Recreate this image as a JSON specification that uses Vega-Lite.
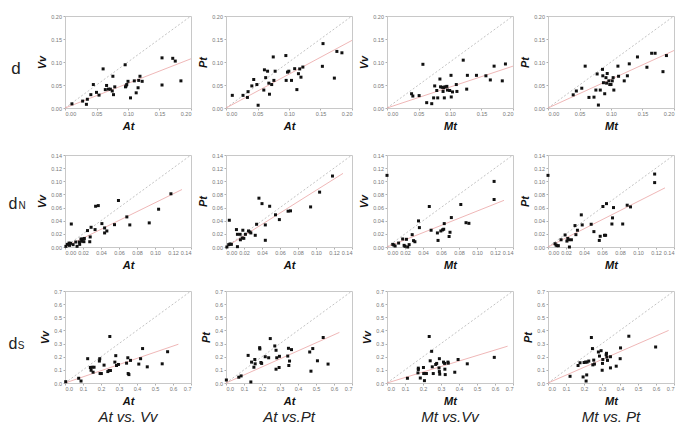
{
"$schema":"https://vega.github.io/schema/vega-lite/v6.json",
"background":"white",
"padding":{"left":2,"top":13,"right":5,"bottom":5},
"spacing":17,
"datasets":{
"ref":[
{"p":"a1","x":0,"y":0,"xd":0.2,"yd":0.2,"xf":0.2,"yf":0.107},
{"p":"a2","x":0,"y":0,"xd":0.2,"yd":0.2,"xf":0.2,"yf":0.147},
{"p":"a3","x":0,"y":0,"xd":0.2,"yd":0.2,"xf":0.2,"yf":0.091},
{"p":"a4","x":0,"y":0,"xd":0.2,"yd":0.2,"xf":0.2,"yf":0.125},
{"p":"b1","x":0,"y":0,"xd":0.14,"yd":0.14,"xf":0.13,"yf":0.0875},
{"p":"b2","x":0,"y":0,"xd":0.14,"yd":0.14,"xf":0.13,"yf":0.112},
{"p":"b3","x":0,"y":0,"xd":0.14,"yd":0.14,"xf":0.13,"yf":0.071},
{"p":"b4","x":0,"y":0,"xd":0.14,"yd":0.14,"xf":0.13,"yf":0.09},
{"p":"c1","x":0,"y":0,"xd":0.7,"yd":0.7,"xf":0.63,"yf":0.295},
{"p":"c2","x":0,"y":0,"xd":0.7,"yd":0.7,"xf":0.63,"yf":0.385},
{"p":"c3","x":0,"y":0,"xd":0.7,"yd":0.7,"xf":0.67,"yf":0.28},
{"p":"c4","x":0,"y":0,"xd":0.7,"yd":0.7,"xf":0.67,"yf":0.4}
],
"a1":[{"x":0.011,"y":0.009},{"x":0.028,"y":0.015},{"x":0.0355,"y":0.019},{"x":0.034,"y":0.008},{"x":0.041,"y":0.029},{"x":0.045,"y":0.051},{"x":0.05,"y":0.034},{"x":0.054,"y":0.028},{"x":0.0605,"y":0.085},{"x":0.064,"y":0.04},{"x":0.066,"y":0.049},{"x":0.069,"y":0.041},{"x":0.072,"y":0.041},{"x":0.075,"y":0.037},{"x":0.076,"y":0.069},{"x":0.077,"y":0.029},{"x":0.079,"y":0.046},{"x":0.0955,"y":0.094},{"x":0.096,"y":0.046},{"x":0.098,"y":0.051},{"x":0.1,"y":0.058},{"x":0.104,"y":0.022},{"x":0.11,"y":0.059},{"x":0.113,"y":0.033},{"x":0.116,"y":0.044},{"x":0.117,"y":0.06},{"x":0.119,"y":0.069},{"x":0.1225,"y":0.058},{"x":0.154,"y":0.109},{"x":0.154,"y":0.05},{"x":0.171,"y":0.108},{"x":0.175,"y":0.102},{"x":0.184,"y":0.059},{"x":0.097,"y":0.048}],
"a2":[{"x":0.01,"y":0.0275},{"x":0.027,"y":0.0275},{"x":0.034,"y":0.023},{"x":0.035,"y":0.0355},{"x":0.041,"y":0.048},{"x":0.044,"y":0.062},{"x":0.049,"y":0.051},{"x":0.051,"y":0.006},{"x":0.06,"y":0.039},{"x":0.061,"y":0.083},{"x":0.063,"y":0.066},{"x":0.066,"y":0.08},{"x":0.068,"y":0.054},{"x":0.069,"y":0.03},{"x":0.0725,"y":0.051},{"x":0.075,"y":0.111},{"x":0.076,"y":0.06},{"x":0.078,"y":0.08},{"x":0.095,"y":0.114},{"x":0.0955,"y":0.06},{"x":0.0976,"y":0.078},{"x":0.0997,"y":0.08},{"x":0.104,"y":0.06},{"x":0.109,"y":0.0855},{"x":0.1125,"y":0.04},{"x":0.115,"y":0.0746},{"x":0.117,"y":0.085},{"x":0.119,"y":0.067},{"x":0.122,"y":0.089},{"x":0.154,"y":0.14},{"x":0.153,"y":0.0906},{"x":0.172,"y":0.065},{"x":0.176,"y":0.123},{"x":0.184,"y":0.12}],
"a3":[{"x":0.039,"y":0.031},{"x":0.041,"y":0.026},{"x":0.051,"y":0.027},{"x":0.057,"y":0.095},{"x":0.063,"y":0.0116},{"x":0.071,"y":0.0094},{"x":0.074,"y":0.022},{"x":0.0757,"y":0.048},{"x":0.079,"y":0.038},{"x":0.0805,"y":0.022},{"x":0.084,"y":0.063},{"x":0.085,"y":0.046},{"x":0.0876,"y":0.045},{"x":0.089,"y":0.036},{"x":0.09,"y":0.044},{"x":0.091,"y":0.022},{"x":0.092,"y":0.046},{"x":0.095,"y":0.047},{"x":0.096,"y":0.039},{"x":0.0995,"y":0.038},{"x":0.1016,"y":0.071},{"x":0.102,"y":0.024},{"x":0.104,"y":0.035},{"x":0.11,"y":0.051},{"x":0.111,"y":0.036},{"x":0.121,"y":0.104},{"x":0.1265,"y":0.041},{"x":0.1276,"y":0.071},{"x":0.142,"y":0.071},{"x":0.157,"y":0.07},{"x":0.164,"y":0.061},{"x":0.17,"y":0.091},{"x":0.183,"y":0.059},{"x":0.188,"y":0.0957}],
"a4":[{"x":0.04,"y":0.0286},{"x":0.045,"y":0.037},{"x":0.0536,"y":0.043},{"x":0.059,"y":0.091},{"x":0.065,"y":0.023},{"x":0.073,"y":0.0236},{"x":0.076,"y":0.039},{"x":0.078,"y":0.074},{"x":0.08,"y":0.0064},{"x":0.083,"y":0.039},{"x":0.0865,"y":0.084},{"x":0.087,"y":0.07},{"x":0.088,"y":0.055},{"x":0.09,"y":0.031},{"x":0.092,"y":0.066},{"x":0.093,"y":0.054},{"x":0.094,"y":0.075},{"x":0.0966,"y":0.059},{"x":0.098,"y":0.051},{"x":0.1,"y":0.051},{"x":0.102,"y":0.059},{"x":0.1034,"y":0.066},{"x":0.1045,"y":0.039},{"x":0.111,"y":0.091},{"x":0.112,"y":0.069},{"x":0.121,"y":0.059},{"x":0.126,"y":0.07},{"x":0.129,"y":0.096},{"x":0.142,"y":0.111},{"x":0.157,"y":0.0886},{"x":0.1645,"y":0.119},{"x":0.17,"y":0.119},{"x":0.1825,"y":0.079},{"x":0.188,"y":0.114}],
"b1":[{"x":0.001,"y":0.001},{"x":0.0026,"y":0.004},{"x":0.0045,"y":0.006},{"x":0.0063,"y":0.0056},{"x":0.007,"y":0.035},{"x":0.005,"y":0.0025},{"x":0.009,"y":0.0036},{"x":0.012,"y":0.0076},{"x":0.0134,"y":0.001},{"x":0.016,"y":0.0076},{"x":0.0163,"y":0.004},{"x":0.0178,"y":0.0122},{"x":0.0186,"y":0.0087},{"x":0.02,"y":0.0122},{"x":0.021,"y":0.0081},{"x":0.0215,"y":0.013},{"x":0.025,"y":0.025},{"x":0.0275,"y":0.008},{"x":0.028,"y":0.0153},{"x":0.029,"y":0.03},{"x":0.0334,"y":0.0265},{"x":0.034,"y":0.062},{"x":0.037,"y":0.063},{"x":0.041,"y":0.0356},{"x":0.044,"y":0.029},{"x":0.044,"y":0.0214},{"x":0.0465,"y":0.0244},{"x":0.055,"y":0.034},{"x":0.0594,"y":0.0708},{"x":0.0687,"y":0.0458},{"x":0.072,"y":0.0336},{"x":0.0936,"y":0.0367},{"x":0.104,"y":0.0575},{"x":0.1177,"y":0.081}],
"b2":[{"x":0.001,"y":0.0},{"x":0.003,"y":0.0036},{"x":0.0045,"y":0.0046},{"x":0.006,"y":0.004},{"x":0.0037,"y":0.0407},{"x":0.0116,"y":0.0265},{"x":0.0127,"y":0.0193},{"x":0.0127,"y":0.0005},{"x":0.0157,"y":0.0193},{"x":0.016,"y":0.011},{"x":0.018,"y":0.0137},{"x":0.0187,"y":0.0255},{"x":0.0198,"y":0.0132},{"x":0.0216,"y":0.0193},{"x":0.025,"y":0.0244},{"x":0.0265,"y":0.023},{"x":0.0276,"y":0.0214},{"x":0.0325,"y":0.0178},{"x":0.034,"y":0.0346},{"x":0.0366,"y":0.0743},{"x":0.04,"y":0.066},{"x":0.0437,"y":0.0336},{"x":0.0437,"y":0.0102},{"x":0.0485,"y":0.062},{"x":0.055,"y":0.049},{"x":0.0593,"y":0.0417},{"x":0.069,"y":0.0545},{"x":0.0717,"y":0.055},{"x":0.094,"y":0.061},{"x":0.104,"y":0.0835},{"x":0.1183,"y":0.108}],
"b3":[{"x":0.0,"y":0.109},{"x":0.0064,"y":0.004},{"x":0.0076,"y":0.003},{"x":0.009,"y":0.0015},{"x":0.0129,"y":0.006},{"x":0.0174,"y":0.0122},{"x":0.019,"y":0.0025},{"x":0.02,"y":0.001},{"x":0.0216,"y":0.0117},{"x":0.023,"y":0.0},{"x":0.0246,"y":0.0036},{"x":0.028,"y":0.0188},{"x":0.0295,"y":0.0097},{"x":0.031,"y":0.008},{"x":0.035,"y":0.0397},{"x":0.036,"y":0.0295},{"x":0.047,"y":0.0616},{"x":0.049,"y":0.0255},{"x":0.056,"y":0.0214},{"x":0.0567,"y":0.01},{"x":0.0598,"y":0.0244},{"x":0.0617,"y":0.026},{"x":0.063,"y":0.027},{"x":0.0636,"y":0.0356},{"x":0.069,"y":0.016},{"x":0.07,"y":0.0224},{"x":0.0715,"y":0.0448},{"x":0.082,"y":0.0647},{"x":0.0878,"y":0.037},{"x":0.091,"y":0.036},{"x":0.119,"y":0.0998},{"x":0.119,"y":0.0723}],
"b4":[{"x":0.0,"y":0.109},{"x":0.0078,"y":0.005},{"x":0.0089,"y":0.003},{"x":0.01,"y":0.002},{"x":0.0115,"y":0.002},{"x":0.0145,"y":0.011},{"x":0.019,"y":0.0183},{"x":0.021,"y":0.009},{"x":0.022,"y":0.013},{"x":0.023,"y":0.011},{"x":0.0238,"y":0.0},{"x":0.026,"y":0.011},{"x":0.03,"y":0.0326},{"x":0.031,"y":0.0188},{"x":0.0327,"y":0.0255},{"x":0.037,"y":0.0489},{"x":0.038,"y":0.0336},{"x":0.048,"y":0.0346},{"x":0.051,"y":0.0234},{"x":0.057,"y":0.01},{"x":0.058,"y":0.0163},{"x":0.061,"y":0.0616},{"x":0.0628,"y":0.0178},{"x":0.064,"y":0.0178},{"x":0.065,"y":0.066},{"x":0.0717,"y":0.0443},{"x":0.071,"y":0.035},{"x":0.0728,"y":0.06},{"x":0.083,"y":0.035},{"x":0.088,"y":0.0636},{"x":0.0917,"y":0.061},{"x":0.1185,"y":0.111},{"x":0.1185,"y":0.098}],
"c1":[{"x":0.004,"y":0.01},{"x":0.076,"y":0.036},{"x":0.089,"y":0.015},{"x":0.126,"y":0.185},{"x":0.141,"y":0.118},{"x":0.145,"y":0.097},{"x":0.15,"y":0.12},{"x":0.156,"y":0.082},{"x":0.1615,"y":0.12},{"x":0.191,"y":0.167},{"x":0.193,"y":0.185},{"x":0.195,"y":0.072},{"x":0.202,"y":0.072},{"x":0.217,"y":0.136},{"x":0.238,"y":0.087},{"x":0.245,"y":0.095},{"x":0.249,"y":0.354},{"x":0.2525,"y":0.095},{"x":0.277,"y":0.159},{"x":0.282,"y":0.208},{"x":0.286,"y":0.133},{"x":0.297,"y":0.141},{"x":0.342,"y":0.151},{"x":0.349,"y":0.192},{"x":0.351,"y":0.072},{"x":0.355,"y":0.064},{"x":0.364,"y":0.172},{"x":0.41,"y":0.144},{"x":0.42,"y":0.185},{"x":0.431,"y":0.262},{"x":0.457,"y":0.123},{"x":0.54,"y":0.146},{"x":0.57,"y":0.238}],
"c2":[{"x":0.002,"y":0.023},{"x":0.071,"y":0.044},{"x":0.084,"y":0.054},{"x":0.123,"y":0.21},{"x":0.138,"y":0.008},{"x":0.142,"y":0.159},{"x":0.155,"y":0.12},{"x":0.16,"y":0.179},{"x":0.162,"y":0.146},{"x":0.187,"y":0.269},{"x":0.188,"y":0.259},{"x":0.194,"y":0.156},{"x":0.198,"y":0.149},{"x":0.218,"y":0.2},{"x":0.237,"y":0.192},{"x":0.246,"y":0.338},{"x":0.271,"y":0.282},{"x":0.278,"y":0.249},{"x":0.278,"y":0.105},{"x":0.282,"y":0.192},{"x":0.297,"y":0.203},{"x":0.295,"y":0.118},{"x":0.343,"y":0.205},{"x":0.347,"y":0.264},{"x":0.349,"y":0.133},{"x":0.353,"y":0.167},{"x":0.364,"y":0.254},{"x":0.465,"y":0.236},{"x":0.472,"y":0.09},{"x":0.482,"y":0.262},{"x":0.508,"y":0.169},{"x":0.54,"y":0.346},{"x":0.567,"y":0.144}],
"c3":[{"x":0.1135,"y":0.036},{"x":0.172,"y":0.077},{"x":0.174,"y":0.113},{"x":0.174,"y":0.103},{"x":0.185,"y":0.038},{"x":0.2025,"y":0.118},{"x":0.204,"y":0.072},{"x":0.212,"y":0.072},{"x":0.208,"y":0.018},{"x":0.219,"y":0.072},{"x":0.2345,"y":0.354},{"x":0.24,"y":0.169},{"x":0.248,"y":0.241},{"x":0.2515,"y":0.123},{"x":0.257,"y":0.072},{"x":0.2705,"y":0.141},{"x":0.276,"y":0.149},{"x":0.289,"y":0.115},{"x":0.291,"y":0.185},{"x":0.291,"y":0.087},{"x":0.293,"y":0.067},{"x":0.314,"y":0.159},{"x":0.32,"y":0.149},{"x":0.3215,"y":0.105},{"x":0.3235,"y":0.064},{"x":0.3386,"y":0.159},{"x":0.34,"y":0.151},{"x":0.3765,"y":0.082},{"x":0.395,"y":0.179},{"x":0.446,"y":0.146},{"x":0.596,"y":0.195}],
"c4":[{"x":0.1225,"y":0.051},{"x":0.167,"y":0.133},{"x":0.178,"y":0.154},{"x":0.195,"y":0.046},{"x":0.2005,"y":0.156},{"x":0.208,"y":0.159},{"x":0.2117,"y":0.015},{"x":0.215,"y":0.0615},{"x":0.217,"y":0.159},{"x":0.2265,"y":0.167},{"x":0.241,"y":0.346},{"x":0.247,"y":0.262},{"x":0.249,"y":0.138},{"x":0.254,"y":0.174},{"x":0.258,"y":0.144},{"x":0.28,"y":0.236},{"x":0.286,"y":0.205},{"x":0.295,"y":0.246},{"x":0.301,"y":0.097},{"x":0.3026,"y":0.149},{"x":0.3045,"y":0.179},{"x":0.323,"y":0.215},{"x":0.325,"y":0.226},{"x":0.327,"y":0.197},{"x":0.3305,"y":0.172},{"x":0.347,"y":0.2},{"x":0.347,"y":0.115},{"x":0.379,"y":0.128},{"x":0.401,"y":0.185},{"x":0.403,"y":0.267},{"x":0.449,"y":0.356},{"x":0.598,"y":0.274}]
},
"vconcat":[
{"spacing":20,"vconcat":[
{"bounds":"flush","spacing":35,"hconcat":[
 {"width":28,"height":92,"view":{"stroke":null},"data":{"values":[{"a":1}]},"mark":{"type":"text","text":"d","fontSize":17,"baseline":"alphabetic","dy":12,"color":"#222222"},"encoding":{}},
 {"width":126,"height":92,"encoding":{"x":{"field":"x","type":"quantitative","scale":{"domain":[0,0.2],"nice":false},"axis":{"values":[0,0.05,0.1,0.15,0.2],"format":".2f","title":"At"}},"y":{"field":"y","type":"quantitative","scale":{"domain":[0,0.2],"nice":false},"axis":{"values":[0,0.05,0.1,0.15,0.2],"format":".2f","title":"Vv"}}},
  "layer":[
   {"data":{"name":"ref"},"transform":[{"filter":"datum.p=='a1'"}],"mark":{"type":"rule","stroke":"#b4b4b4","strokeWidth":0.8,"strokeDash":[2,2]},"encoding":{"x2":{"field":"xd"},"y2":{"field":"yd"}}},
   {"data":{"name":"ref"},"transform":[{"filter":"datum.p=='a1'"}],"mark":{"type":"rule","stroke":"#eba5a5","strokeWidth":0.8},"encoding":{"x2":{"field":"xf"},"y2":{"field":"yf"}}},
   {"data":{"name":"a1"},"mark":{"type":"square","color":"#111111","size":9,"opacity":1}}]},
 {"width":126,"height":92,"encoding":{"x":{"field":"x","type":"quantitative","scale":{"domain":[0,0.2],"nice":false},"axis":{"values":[0,0.05,0.1,0.15,0.2],"format":".2f","title":"At"}},"y":{"field":"y","type":"quantitative","scale":{"domain":[0,0.2],"nice":false},"axis":{"values":[0,0.05,0.1,0.15,0.2],"format":".2f","title":"Pt"}}},
  "layer":[
   {"data":{"name":"ref"},"transform":[{"filter":"datum.p=='a2'"}],"mark":{"type":"rule","stroke":"#b4b4b4","strokeWidth":0.8,"strokeDash":[2,2]},"encoding":{"x2":{"field":"xd"},"y2":{"field":"yd"}}},
   {"data":{"name":"ref"},"transform":[{"filter":"datum.p=='a2'"}],"mark":{"type":"rule","stroke":"#eba5a5","strokeWidth":0.8},"encoding":{"x2":{"field":"xf"},"y2":{"field":"yf"}}},
   {"data":{"name":"a2"},"mark":{"type":"square","color":"#111111","size":9,"opacity":1}}]},
 {"width":126,"height":92,"encoding":{"x":{"field":"x","type":"quantitative","scale":{"domain":[0,0.2],"nice":false},"axis":{"values":[0,0.05,0.1,0.15,0.2],"format":".2f","title":"Mt"}},"y":{"field":"y","type":"quantitative","scale":{"domain":[0,0.2],"nice":false},"axis":{"values":[0,0.05,0.1,0.15,0.2],"format":".2f","title":"Vv"}}},
  "layer":[
   {"data":{"name":"ref"},"transform":[{"filter":"datum.p=='a3'"}],"mark":{"type":"rule","stroke":"#b4b4b4","strokeWidth":0.8,"strokeDash":[2,2]},"encoding":{"x2":{"field":"xd"},"y2":{"field":"yd"}}},
   {"data":{"name":"ref"},"transform":[{"filter":"datum.p=='a3'"}],"mark":{"type":"rule","stroke":"#eba5a5","strokeWidth":0.8},"encoding":{"x2":{"field":"xf"},"y2":{"field":"yf"}}},
   {"data":{"name":"a3"},"mark":{"type":"square","color":"#111111","size":9,"opacity":1}}]},
 {"width":126,"height":92,"encoding":{"x":{"field":"x","type":"quantitative","scale":{"domain":[0,0.2],"nice":false},"axis":{"values":[0,0.05,0.1,0.15,0.2],"format":".2f","title":"Mt"}},"y":{"field":"y","type":"quantitative","scale":{"domain":[0,0.2],"nice":false},"axis":{"values":[0,0.05,0.1,0.15,0.2],"format":".2f","title":"Pt"}}},
  "layer":[
   {"data":{"name":"ref"},"transform":[{"filter":"datum.p=='a4'"}],"mark":{"type":"rule","stroke":"#b4b4b4","strokeWidth":0.8,"strokeDash":[2,2]},"encoding":{"x2":{"field":"xd"},"y2":{"field":"yd"}}},
   {"data":{"name":"ref"},"transform":[{"filter":"datum.p=='a4'"}],"mark":{"type":"rule","stroke":"#eba5a5","strokeWidth":0.8},"encoding":{"x2":{"field":"xf"},"y2":{"field":"yf"}}},
   {"data":{"name":"a4"},"mark":{"type":"square","color":"#111111","size":9,"opacity":1}}]}
]},
{"bounds":"flush","spacing":35,"hconcat":[
 {"width":28,"height":92,"view":{"stroke":null},"data":{"values":[{"a":1}]},"encoding":{},"layer":[
   {"mark":{"type":"text","text":"d","fontSize":16,"baseline":"alphabetic","dy":8,"dx":-3,"color":"#222222"}},
   {"mark":{"type":"text","text":"N","fontSize":10,"baseline":"alphabetic","dy":8,"dx":6,"color":"#222222"}}]},
 {"width":126,"height":92,"encoding":{"x":{"field":"x","type":"quantitative","scale":{"domain":[0,0.14],"nice":false},"axis":{"values":[0,0.02,0.04,0.06,0.08,0.1,0.12,0.14],"format":".2f","title":"At"}},"y":{"field":"y","type":"quantitative","scale":{"domain":[0,0.14],"nice":false},"axis":{"values":[0,0.02,0.04,0.06,0.08,0.1,0.12,0.14],"format":".2f","title":"Vv"}}},
  "layer":[
   {"data":{"name":"ref"},"transform":[{"filter":"datum.p=='b1'"}],"mark":{"type":"rule","stroke":"#b4b4b4","strokeWidth":0.8,"strokeDash":[2,2]},"encoding":{"x2":{"field":"xd"},"y2":{"field":"yd"}}},
   {"data":{"name":"ref"},"transform":[{"filter":"datum.p=='b1'"}],"mark":{"type":"rule","stroke":"#eba5a5","strokeWidth":0.8},"encoding":{"x2":{"field":"xf"},"y2":{"field":"yf"}}},
   {"data":{"name":"b1"},"mark":{"type":"square","color":"#111111","size":9,"opacity":1}}]},
 {"width":126,"height":92,"encoding":{"x":{"field":"x","type":"quantitative","scale":{"domain":[0,0.14],"nice":false},"axis":{"values":[0,0.02,0.04,0.06,0.08,0.1,0.12,0.14],"format":".2f","title":"At"}},"y":{"field":"y","type":"quantitative","scale":{"domain":[0,0.14],"nice":false},"axis":{"values":[0,0.02,0.04,0.06,0.08,0.1,0.12,0.14],"format":".2f","title":"Pt"}}},
  "layer":[
   {"data":{"name":"ref"},"transform":[{"filter":"datum.p=='b2'"}],"mark":{"type":"rule","stroke":"#b4b4b4","strokeWidth":0.8,"strokeDash":[2,2]},"encoding":{"x2":{"field":"xd"},"y2":{"field":"yd"}}},
   {"data":{"name":"ref"},"transform":[{"filter":"datum.p=='b2'"}],"mark":{"type":"rule","stroke":"#eba5a5","strokeWidth":0.8},"encoding":{"x2":{"field":"xf"},"y2":{"field":"yf"}}},
   {"data":{"name":"b2"},"mark":{"type":"square","color":"#111111","size":9,"opacity":1}}]},
 {"width":126,"height":92,"encoding":{"x":{"field":"x","type":"quantitative","scale":{"domain":[0,0.14],"nice":false},"axis":{"values":[0,0.02,0.04,0.06,0.08,0.1,0.12,0.14],"format":".2f","title":"Mt"}},"y":{"field":"y","type":"quantitative","scale":{"domain":[0,0.14],"nice":false},"axis":{"values":[0,0.02,0.04,0.06,0.08,0.1,0.12,0.14],"format":".2f","title":"Vv"}}},
  "layer":[
   {"data":{"name":"ref"},"transform":[{"filter":"datum.p=='b3'"}],"mark":{"type":"rule","stroke":"#b4b4b4","strokeWidth":0.8,"strokeDash":[2,2]},"encoding":{"x2":{"field":"xd"},"y2":{"field":"yd"}}},
   {"data":{"name":"ref"},"transform":[{"filter":"datum.p=='b3'"}],"mark":{"type":"rule","stroke":"#eba5a5","strokeWidth":0.8},"encoding":{"x2":{"field":"xf"},"y2":{"field":"yf"}}},
   {"data":{"name":"b3"},"mark":{"type":"square","color":"#111111","size":9,"opacity":1}}]},
 {"width":126,"height":92,"encoding":{"x":{"field":"x","type":"quantitative","scale":{"domain":[0,0.14],"nice":false},"axis":{"values":[0,0.02,0.04,0.06,0.08,0.1,0.12,0.14],"format":".2f","title":"Mt"}},"y":{"field":"y","type":"quantitative","scale":{"domain":[0,0.14],"nice":false},"axis":{"values":[0,0.02,0.04,0.06,0.08,0.1,0.12,0.14],"format":".2f","title":"Pt"}}},
  "layer":[
   {"data":{"name":"ref"},"transform":[{"filter":"datum.p=='b4'"}],"mark":{"type":"rule","stroke":"#b4b4b4","strokeWidth":0.8,"strokeDash":[2,2]},"encoding":{"x2":{"field":"xd"},"y2":{"field":"yd"}}},
   {"data":{"name":"ref"},"transform":[{"filter":"datum.p=='b4'"}],"mark":{"type":"rule","stroke":"#eba5a5","strokeWidth":0.8},"encoding":{"x2":{"field":"xf"},"y2":{"field":"yf"}}},
   {"data":{"name":"b4"},"mark":{"type":"square","color":"#111111","size":9,"opacity":1}}]}
]}
]},
{"bounds":"flush","spacing":35,"hconcat":[
 {"width":28,"height":92,"view":{"stroke":null},"data":{"values":[{"a":1}]},"encoding":{},"layer":[
   {"mark":{"type":"text","text":"d","fontSize":16,"baseline":"alphabetic","dy":12,"dx":-3,"color":"#222222"}},
   {"mark":{"type":"text","text":"S","fontSize":10,"baseline":"alphabetic","dy":12,"dx":5,"color":"#222222"}}]},
 {"width":126,"height":92,"title":{"text":"At vs. Vv","orient":"bottom","frame":"group"},"encoding":{"x":{"field":"x","type":"quantitative","scale":{"domain":[0,0.7],"nice":false},"axis":{"values":[0,0.1,0.2,0.3,0.4,0.5,0.6,0.7],"format":".1f","title":"At"}},"y":{"field":"y","type":"quantitative","scale":{"domain":[0,0.7],"nice":false},"axis":{"values":[0,0.1,0.2,0.3,0.4,0.5,0.6,0.7],"format":".1f","title":"Vv"}}},
  "layer":[
   {"data":{"name":"ref"},"transform":[{"filter":"datum.p=='c1'"}],"mark":{"type":"rule","stroke":"#b4b4b4","strokeWidth":0.8,"strokeDash":[2,2]},"encoding":{"x2":{"field":"xd"},"y2":{"field":"yd"}}},
   {"data":{"name":"ref"},"transform":[{"filter":"datum.p=='c1'"}],"mark":{"type":"rule","stroke":"#eba5a5","strokeWidth":0.8},"encoding":{"x2":{"field":"xf"},"y2":{"field":"yf"}}},
   {"data":{"name":"c1"},"mark":{"type":"square","color":"#111111","size":9,"opacity":1}}]},
 {"width":126,"height":92,"title":{"text":"At vs.Pt","orient":"bottom","frame":"group"},"encoding":{"x":{"field":"x","type":"quantitative","scale":{"domain":[0,0.7],"nice":false},"axis":{"values":[0,0.1,0.2,0.3,0.4,0.5,0.6,0.7],"format":".1f","title":"At"}},"y":{"field":"y","type":"quantitative","scale":{"domain":[0,0.7],"nice":false},"axis":{"values":[0,0.1,0.2,0.3,0.4,0.5,0.6,0.7],"format":".1f","title":"Pt"}}},
  "layer":[
   {"data":{"name":"ref"},"transform":[{"filter":"datum.p=='c2'"}],"mark":{"type":"rule","stroke":"#b4b4b4","strokeWidth":0.8,"strokeDash":[2,2]},"encoding":{"x2":{"field":"xd"},"y2":{"field":"yd"}}},
   {"data":{"name":"ref"},"transform":[{"filter":"datum.p=='c2'"}],"mark":{"type":"rule","stroke":"#eba5a5","strokeWidth":0.8},"encoding":{"x2":{"field":"xf"},"y2":{"field":"yf"}}},
   {"data":{"name":"c2"},"mark":{"type":"square","color":"#111111","size":9,"opacity":1}}]},
 {"width":126,"height":92,"title":{"text":"Mt vs.Vv","orient":"bottom","frame":"group"},"encoding":{"x":{"field":"x","type":"quantitative","scale":{"domain":[0,0.7],"nice":false},"axis":{"values":[0,0.1,0.2,0.3,0.4,0.5,0.6,0.7],"format":".1f","title":"Mt"}},"y":{"field":"y","type":"quantitative","scale":{"domain":[0,0.7],"nice":false},"axis":{"values":[0,0.1,0.2,0.3,0.4,0.5,0.6,0.7],"format":".1f","title":"Vv"}}},
  "layer":[
   {"data":{"name":"ref"},"transform":[{"filter":"datum.p=='c3'"}],"mark":{"type":"rule","stroke":"#b4b4b4","strokeWidth":0.8,"strokeDash":[2,2]},"encoding":{"x2":{"field":"xd"},"y2":{"field":"yd"}}},
   {"data":{"name":"ref"},"transform":[{"filter":"datum.p=='c3'"}],"mark":{"type":"rule","stroke":"#eba5a5","strokeWidth":0.8},"encoding":{"x2":{"field":"xf"},"y2":{"field":"yf"}}},
   {"data":{"name":"c3"},"mark":{"type":"square","color":"#111111","size":9,"opacity":1}}]},
 {"width":126,"height":92,"title":{"text":"Mt vs. Pt","orient":"bottom","frame":"group"},"encoding":{"x":{"field":"x","type":"quantitative","scale":{"domain":[0,0.7],"nice":false},"axis":{"values":[0,0.1,0.2,0.3,0.4,0.5,0.6,0.7],"format":".1f","title":"Mt"}},"y":{"field":"y","type":"quantitative","scale":{"domain":[0,0.7],"nice":false},"axis":{"values":[0,0.1,0.2,0.3,0.4,0.5,0.6,0.7],"format":".1f","title":"Pt"}}},
  "layer":[
   {"data":{"name":"ref"},"transform":[{"filter":"datum.p=='c4'"}],"mark":{"type":"rule","stroke":"#b4b4b4","strokeWidth":0.8,"strokeDash":[2,2]},"encoding":{"x2":{"field":"xd"},"y2":{"field":"yd"}}},
   {"data":{"name":"ref"},"transform":[{"filter":"datum.p=='c4'"}],"mark":{"type":"rule","stroke":"#eba5a5","strokeWidth":0.8},"encoding":{"x2":{"field":"xf"},"y2":{"field":"yf"}}},
   {"data":{"name":"c4"},"mark":{"type":"square","color":"#111111","size":9,"opacity":1}}]}
]}
],
"config":{
 "font":"Liberation Sans",
 "view":{"stroke":"#c8c8c8","strokeWidth":1},
 "axis":{"domainColor":"#c8c8c8","tickColor":"#b0b0b0","tickSize":2,"labelFontSize":5.5,"labelColor":"#777777","labelPadding":1.5,"grid":false,"titleFontSize":11,"titleFontStyle":"italic","titleFontWeight":"bold","titleColor":"#111111","titlePadding":3},
 "title":{"fontSize":15,"fontStyle":"italic","fontWeight":"normal","color":"#222222","offset":4}
}
}
